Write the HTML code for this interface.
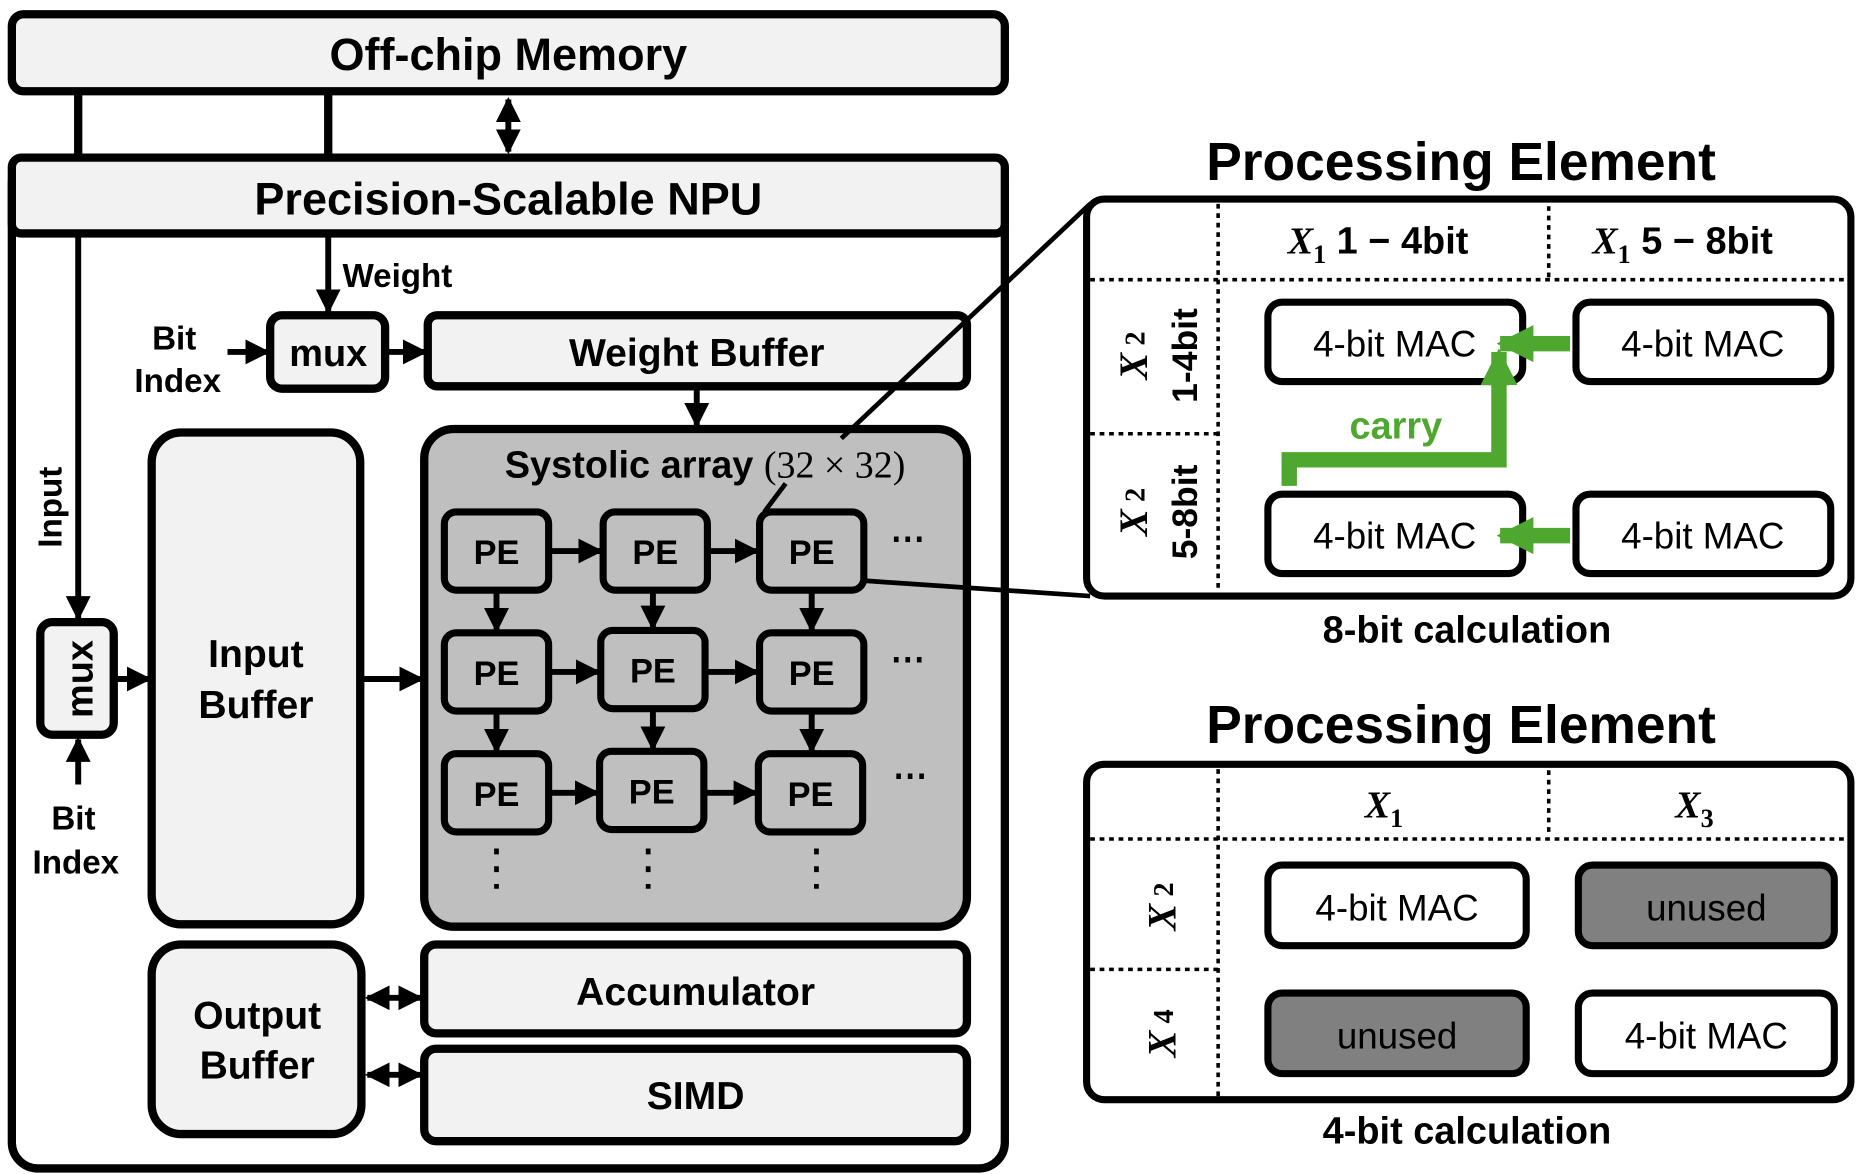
<!DOCTYPE html>
<html><head><meta charset="utf-8"><style>
html,body{margin:0;padding:0;background:#fff;}
svg{display:block;}
text{font-family:"Liberation Sans",sans-serif;font-weight:bold;fill:#000;}
.s{font-family:"Liberation Serif",serif;font-style:italic;font-weight:bold;}
.n{font-weight:normal;}
</style></head><body>
<svg width="1858" height="1174" viewBox="0 0 1568 990.7" preserveAspectRatio="none" xmlns="http://www.w3.org/2000/svg">
<defs>
<marker id="a" viewBox="0 0 10 10" refX="9" refY="5" markerWidth="4.2" markerHeight="4.4" orient="auto-start-reverse" markerUnits="strokeWidth"><path d="M0,0L10,5L0,10z" fill="#000"/></marker>
<marker id="g" viewBox="0 0 10 10" refX="9" refY="5" markerWidth="2.4" markerHeight="2.6" orient="auto" markerUnits="strokeWidth"><path d="M0,0L10,5L0,10z" fill="#4ea72e"/></marker>
</defs>
<g stroke="#000" stroke-width="7" fill="none">
<rect x="10" y="12" width="838" height="65" rx="10" fill="#f2f2f2"/>
<line x1="66" y1="77" x2="66" y2="135"/>
<line x1="277" y1="77" x2="277" y2="135"/>
<line x1="429" y1="84" x2="429" y2="128" stroke-width="5" marker-start="url(#a)" marker-end="url(#a)"/>
<rect x="10" y="133" width="838" height="853" rx="22" fill="#fff"/>
<rect x="10" y="133" width="838" height="64" rx="8" fill="#f2f2f2"/>
<line x1="66" y1="197" x2="66" y2="522" stroke-width="5" marker-end="url(#a)"/>
<line x1="277" y1="197" x2="277" y2="263" stroke-width="5" marker-end="url(#a)"/>
<rect x="34" y="525" width="62" height="95" rx="10" fill="#f2f2f2"/>
<line x1="66" y1="662" x2="66" y2="624" stroke-width="5" marker-end="url(#a)"/>
<line x1="96" y1="573" x2="126" y2="573" stroke-width="5" marker-end="url(#a)"/>
<rect x="128" y="365" width="176" height="415" rx="25" fill="#f2f2f2"/>
<line x1="305" y1="573" x2="356" y2="573" stroke-width="5" marker-end="url(#a)"/>
<rect x="228" y="266" width="97" height="62" rx="10" fill="#f2f2f2"/>
<line x1="192" y1="297" x2="226" y2="297" stroke-width="5" marker-end="url(#a)"/>
<line x1="326" y1="297" x2="359" y2="297" stroke-width="5" marker-end="url(#a)"/>
<rect x="361" y="266" width="455" height="60" rx="8" fill="#f2f2f2"/>
<line x1="588" y1="327" x2="588" y2="359" stroke-width="5" marker-end="url(#a)"/>
<rect x="358" y="362" width="458" height="420" rx="25" fill="#bfbfbf"/>
<g fill="#bfbfbf" stroke-width="6">
<rect x="375" y="432" width="88" height="66" rx="10"/><rect x="509" y="432" width="88" height="66" rx="10"/><rect x="641" y="432" width="88" height="66" rx="10"/>
<rect x="375" y="534" width="88" height="66" rx="10"/><rect x="507" y="532" width="88" height="66" rx="10"/><rect x="641" y="534" width="88" height="66" rx="10"/>
<rect x="375" y="636" width="88" height="66" rx="10"/><rect x="506" y="634" width="88" height="66" rx="10"/><rect x="640" y="636" width="88" height="66" rx="10"/>
</g>
<g stroke-width="5">
<line x1="463" y1="465" x2="507" y2="465" marker-end="url(#a)"/><line x1="597" y1="465" x2="639" y2="465" marker-end="url(#a)"/>
<line x1="463" y1="567" x2="505" y2="567" marker-end="url(#a)"/><line x1="595" y1="567" x2="639" y2="567" marker-end="url(#a)"/>
<line x1="463" y1="669" x2="504" y2="669" marker-end="url(#a)"/><line x1="594" y1="669" x2="638" y2="669" marker-end="url(#a)"/>
<line x1="419" y1="498" x2="419" y2="532" marker-end="url(#a)"/><line x1="551" y1="498" x2="551" y2="530" marker-end="url(#a)"/><line x1="685" y1="498" x2="685" y2="532" marker-end="url(#a)"/>
<line x1="419" y1="600" x2="419" y2="634" marker-end="url(#a)"/><line x1="551" y1="598" x2="551" y2="632" marker-end="url(#a)"/><line x1="685" y1="600" x2="685" y2="634" marker-end="url(#a)"/>
</g>
<g stroke-width="4" stroke-dasharray="5,10">
<line x1="419" y1="716" x2="419" y2="750"/><line x1="547" y1="716" x2="547" y2="750"/><line x1="689" y1="716" x2="689" y2="750"/>
</g>
<line x1="645" y1="432" x2="663" y2="408" stroke-width="4"/>
<line x1="710" y1="370" x2="920" y2="172" stroke-width="4"/>
<line x1="729" y1="490" x2="920" y2="503" stroke-width="4"/>
<rect x="128" y="797" width="177" height="160" rx="25" fill="#f2f2f2"/>
<rect x="358" y="797" width="458" height="75" rx="10" fill="#f2f2f2"/>
<rect x="358" y="885" width="458" height="78" rx="10" fill="#f2f2f2"/>
<line x1="310" y1="842" x2="355" y2="842" stroke-width="5" marker-start="url(#a)" marker-end="url(#a)"/>
<line x1="310" y1="907" x2="355" y2="907" stroke-width="5" marker-start="url(#a)" marker-end="url(#a)"/>
<rect x="917" y="168" width="645" height="335" rx="15" stroke-width="6"/>
<g stroke-width="3" stroke-dasharray="4,4">
<line x1="1028" y1="172" x2="1028" y2="500"/><line x1="1307" y1="174" x2="1307" y2="234"/>
<line x1="920" y1="236" x2="1559" y2="236"/><line x1="920" y1="366" x2="1028" y2="366"/>
</g>
<g stroke-width="6" fill="#fff">
<rect x="1070" y="255" width="215" height="67" rx="12"/><rect x="1330" y="255" width="215" height="67" rx="12"/>
<rect x="1070" y="417" width="215" height="67" rx="12"/><rect x="1330" y="417" width="215" height="67" rx="12"/>
</g>
<g stroke="#4ea72e" stroke-width="13">
<line x1="1325" y1="290" x2="1266" y2="290" marker-end="url(#g)"/>
<line x1="1325" y1="452" x2="1266" y2="452" marker-end="url(#g)"/>
<polyline points="1088,410 1088,388 1265,388 1265,297" marker-end="url(#g)"/>
</g>
<rect x="917" y="645" width="645" height="283" rx="15" stroke-width="6"/>
<g stroke-width="3" stroke-dasharray="4,4">
<line x1="1028" y1="649" x2="1028" y2="925"/><line x1="1307" y1="650" x2="1307" y2="706"/>
<line x1="920" y1="708" x2="1559" y2="708"/><line x1="920" y1="818" x2="1028" y2="818"/>
</g>
<g stroke-width="6">
<rect x="1070" y="730" width="218" height="68" rx="12" fill="#fff"/><rect x="1332" y="730" width="216" height="68" rx="12" fill="#808080"/>
<rect x="1070" y="838" width="218" height="68" rx="12" fill="#808080"/><rect x="1332" y="838" width="216" height="68" rx="12" fill="#fff"/>
</g>
</g>
<g text-anchor="middle">
<text x="429" y="59" font-size="38">Off-chip Memory</text>
<text x="429" y="181" font-size="38">Precision-Scalable NPU</text>
<text x="289" y="242" font-size="28" text-anchor="start">Weight</text>
<text x="147" y="295" font-size="28">Bit</text><text x="150" y="331" font-size="28">Index</text>
<text x="277" y="309" font-size="32">mux</text>
<text x="588" y="309" font-size="33">Weight Buffer</text>
<text transform="translate(52,428) rotate(-90)" font-size="28">Input</text>
<text transform="translate(78,573) rotate(-90)" font-size="32">mux</text>
<text x="62" y="700" font-size="28">Bit</text><text x="64" y="737" font-size="28">Index</text>
<text x="216" y="563" font-size="33">Input</text><text x="216" y="606" font-size="33">Buffer</text>
<text x="595" y="403" font-size="32">Systolic array <tspan font-family="Liberation Serif" font-weight="normal">(32 × 32)</tspan></text>
<g font-size="29">
<text x="419" y="476">PE</text><text x="553" y="476">PE</text><text x="685" y="476">PE</text>
<text x="419" y="578">PE</text><text x="551" y="576">PE</text><text x="685" y="578">PE</text>
<text x="419" y="680">PE</text><text x="550" y="678">PE</text><text x="684" y="680">PE</text>
<text x="766" y="464">⋯</text><text x="766" y="566">⋯</text><text x="768" y="664">⋯</text>
</g>
<text x="217" y="868" font-size="33">Output</text><text x="217" y="910" font-size="33">Buffer</text>
<text x="587" y="848" font-size="33">Accumulator</text>
<text x="587" y="936" font-size="33">SIMD</text>
<text x="1233" y="152" font-size="45">Processing Element</text>
<text x="1163" y="214" font-size="32"><tspan class="s">X</tspan><tspan font-family="Liberation Serif" font-size="22" dy="8">1</tspan><tspan dy="-8"> 1 − 4bit</tspan></text>
<text x="1420" y="214" font-size="32"><tspan class="s">X</tspan><tspan font-family="Liberation Serif" font-size="22" dy="8">1</tspan><tspan dy="-8"> 5 − 8bit</tspan></text>
<text transform="translate(968,300) rotate(-90)" font-size="34"><tspan class="s">X</tspan><tspan font-family="Liberation Serif" font-size="24" dy="-2"> 2</tspan></text>
<text transform="translate(1010,300) rotate(-90)" font-size="30">1-4bit</text>
<text transform="translate(968,432) rotate(-90)" font-size="34"><tspan class="s">X</tspan><tspan font-family="Liberation Serif" font-size="24" dy="-2"> 2</tspan></text>
<text transform="translate(1010,432) rotate(-90)" font-size="30">5-8bit</text>
<g font-size="31">
<text x="1177" y="301" class="n">4-bit MAC</text><text x="1437" y="301" class="n">4-bit MAC</text>
<text x="1177" y="463" class="n">4-bit MAC</text><text x="1437" y="463" class="n">4-bit MAC</text>
<text x="1179" y="777" class="n">4-bit MAC</text><text x="1440" y="777" class="n">unused</text>
<text x="1179" y="885" class="n">unused</text><text x="1440" y="885" class="n">4-bit MAC</text>
</g>
<text x="1178" y="370" font-size="32" style="fill:#4ea72e">carry</text>
<text x="1238" y="542" font-size="32">8-bit calculation</text>
<text x="1233" y="627" font-size="45">Processing Element</text>
<text x="1168" y="690" font-size="32"><tspan class="s">X</tspan><tspan font-family="Liberation Serif" font-size="22" dy="8">1</tspan></text>
<text x="1430" y="690" font-size="32"><tspan class="s">X</tspan><tspan font-family="Liberation Serif" font-size="22" dy="8">3</tspan></text>
<text transform="translate(992,765) rotate(-90)" font-size="34"><tspan class="s">X</tspan><tspan font-family="Liberation Serif" font-size="24" dy="-2"> 2</tspan></text>
<text transform="translate(992,872) rotate(-90)" font-size="34"><tspan class="s">X</tspan><tspan font-family="Liberation Serif" font-size="24" dy="-2"> 4</tspan></text>
<text x="1238" y="965" font-size="32">4-bit calculation</text>
</g>
</svg>
</body></html>
